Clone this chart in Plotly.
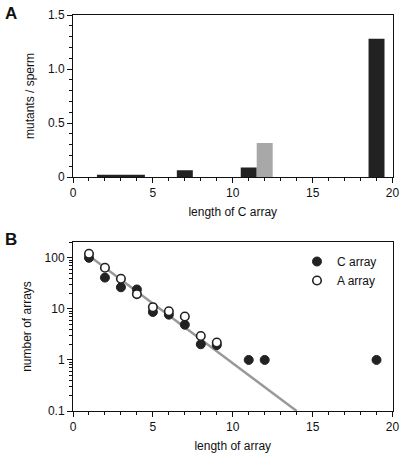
import plotly.graph_objects as go

# Panel A data
bar_dark_x = [3, 7, 11, 19]
bar_dark_w = [3, 1, 1, 1]
bar_dark_h = [0.02, 0.063, 0.087, 1.28]
bar_gray_x = [12]
bar_gray_w = [1]
bar_gray_h = [0.315]

# Panel B data
c_len = [1, 2, 3, 4, 5, 6, 7, 8, 9, 11, 12, 19]
c_count = [100, 41, 26.5, 24, 8.7, 7.7, 4.9, 2.03, 1.95, 1, 1, 1]
a_len = [1, 2, 3, 4, 5, 6, 7, 8, 9]
a_count = [120, 64, 39, 19.5, 10.8, 9.0, 7.1, 2.95, 2.2]
fit_x = [1, 14]
fit_y = [110, 0.1]

log_major = [0.1, 1, 10, 100]
log_minor = [m * d for d in [0.1, 1, 10, 100] for m in range(2, 10) if m * d <= 200]

FONT = "Liberation Sans, Arial, sans-serif"
DARK = "#222222"
GRAY = "#a8a8a8"

fig = go.Figure()

fig.add_trace(go.Bar(x=bar_dark_x, y=bar_dark_h, width=bar_dark_w,
                     marker=dict(color=DARK, line=dict(width=0)),
                     showlegend=False, xaxis="x", yaxis="y"))
fig.add_trace(go.Bar(x=bar_gray_x, y=bar_gray_h, width=bar_gray_w,
                     marker=dict(color=GRAY, line=dict(width=0)),
                     showlegend=False, xaxis="x", yaxis="y"))

fig.add_trace(go.Scatter(x=fit_x, y=fit_y, mode="lines",
                         line=dict(color="#999999", width=2.5),
                         showlegend=False, xaxis="x2", yaxis="y2"))
fig.add_trace(go.Scatter(x=c_len, y=c_count, mode="markers", name="C array",
                         marker=dict(color=DARK, size=9, line=dict(color=DARK, width=1)),
                         legendrank=1, xaxis="x2", yaxis="y2"))
fig.add_trace(go.Scatter(x=a_len, y=a_count, mode="markers", name="A array",
                         marker=dict(color="white", size=8.5, line=dict(color=DARK, width=1.6)),
                         legendrank=2, xaxis="x2", yaxis="y2"))

xdom = [73 / 401, 392.5 / 401]
axis_common = dict(showline=True, linecolor="#111", linewidth=1, mirror=True,
                   ticks="outside", ticklen=5, tickcolor="#111", showgrid=False,
                   zeroline=False, automargin=False,
                   tickfont=dict(size=12, color="#111", family=FONT),
                   title_font=dict(size=12, color="#111", family=FONT))

fig.update_layout(
    width=401, height=454,
    margin=dict(l=0, r=0, t=0, b=0),
    paper_bgcolor="white", plot_bgcolor="white",
    font=dict(family=FONT, size=12, color="#111"),
    barmode="overlay",
    xaxis=dict(domain=xdom, anchor="y", range=[0, 20], dtick=5,
               minor=dict(ticks="outside", dtick=1, ticklen=3, tickcolor="#111"),
               title=dict(text="length of C array", standoff=8), **axis_common),
    yaxis=dict(domain=[1 - 177 / 454, 1 - 15 / 454], anchor="x", range=[0, 1.5],
               tickvals=[0, 0.5, 1.0, 1.5], ticktext=["0", "0.5", "1.0", "1.5"],
               minor=dict(ticks="outside", dtick=0.1, ticklen=3, tickcolor="#111"),
               title=dict(text="mutants / sperm", standoff=10), **axis_common),
    xaxis2=dict(domain=xdom, anchor="y2", range=[0, 20], dtick=5,
                minor=dict(ticks="outside", dtick=1, ticklen=3, tickcolor="#111"),
                title=dict(text="length of array", standoff=8), **axis_common),
    yaxis2=dict(domain=[1 - 411 / 454, 1 - 242 / 454], anchor="x2", type="log",
                range=[-1, 2.31], tickvals=log_major, ticktext=["0.1", "1", "10", "100"],
                minor=dict(ticks="outside", tickvals=log_minor, ticklen=3, tickcolor="#111"),
                title=dict(text="number of arrays", standoff=10), **axis_common),
    legend=dict(x=297 / 401, y=1 - 247 / 454, xanchor="left", yanchor="top",
                bgcolor="rgba(0,0,0,0)", font=dict(size=12, family=FONT, color="#111"),
                itemwidth=30, tracegroupgap=0),
    annotations=[
        dict(text="<b>A</b>", x=3 / 401, y=1 - 2 / 454, xref="paper", yref="paper",
             xanchor="left", yanchor="top", showarrow=False,
             font=dict(size=17, family=FONT, color="#111")),
        dict(text="<b>B</b>", x=3 / 401, y=1 - 228 / 454, xref="paper", yref="paper",
             xanchor="left", yanchor="top", showarrow=False,
             font=dict(size=17, family=FONT, color="#111")),
    ],
)

fig.write_html("out.html", config={"displayModeBar": False},
               post_script="document.body.style.margin='0';document.body.style.overflow='hidden';")
